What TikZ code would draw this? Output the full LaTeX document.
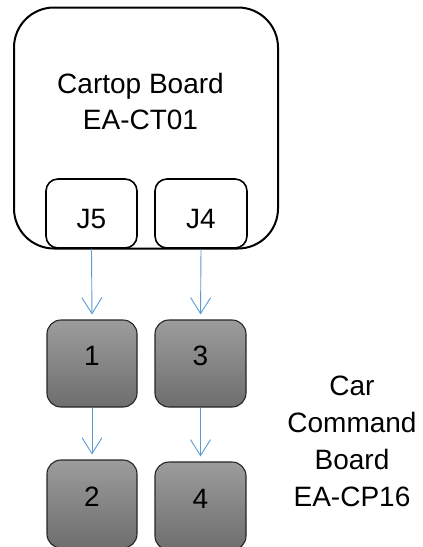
\documentclass[tikz,border=0pt]{standalone}
\usepackage{fontspec}
\setmainfont{Liberation Sans}
\usetikzlibrary{arrows.meta}
\definecolor{arrowblue}{RGB}{91,155,213}
\definecolor{graytop}{RGB}{156,156,156}
\definecolor{graybot}{RGB}{110,110,110}
\tikzset{
  board/.style={draw=black, line width=2pt, rounded corners=40pt, fill=white, inner sep=0pt},
  jack/.style={draw=black, line width=1.6pt, rounded corners=12pt, fill=white, inner sep=0pt, text height=30pt, text depth=0pt, font=\fontsize{28}{34}\selectfont},
  plug/.style={draw=black!85, line width=1.1pt, rounded corners=14pt, top color=graytop, bottom color=graybot, inner sep=0pt, text height=20pt, text depth=16pt, font=\fontsize{28}{34}\selectfont},
  lbl/.style={align=center, inner sep=0pt, font=\fontsize{28}{36}\selectfont},
  link/.style={draw=arrowblue, line width=0.9pt, -{Straight Barb[length=16pt, width=20pt, line width=0.9pt]}, shorten >=5pt}
}
\begin{document}
\begin{tikzpicture}[x=1pt, y=-1pt]
\useasboundingbox (0,0) rectangle (423,547);
\node[board, minimum width=264pt, minimum height=241pt] (ct) at (146,128) {};
\node[lbl] (cttext) at (140.5,101) {Cartop Board\\EA-CT01};
\node[jack, minimum width=91pt, minimum height=69pt] (j5) at (91.5,213.5) {J5};
\node[jack, minimum width=92pt, minimum height=69pt] (j4) at (201,213.5) {J4};
\node[plug, minimum width=90pt, minimum height=87pt] (p1) at (92,363.5) {1};
\node[plug, minimum width=91pt, minimum height=87pt] (p3) at (200.5,363.5) {3};
\node[plug, minimum width=90pt, minimum height=88pt] (p2) at (92,504) {2};
\node[plug, minimum width=91pt, minimum height=88pt] (p4) at (200.5,506) {4};
\node[lbl, font=\fontsize{28}{37}\selectfont] (cp) at (352,441) {Car\\Command\\Board\\EA-CP16};
\draw[link] (j5.south) -- (p1.north);
\draw[link] (j4.south) -- (p3.north);
\draw[link] (p1.south) -- (p2.north);
\draw[link] (p3.south) -- (p4.north);
\end{tikzpicture}
\end{document}
